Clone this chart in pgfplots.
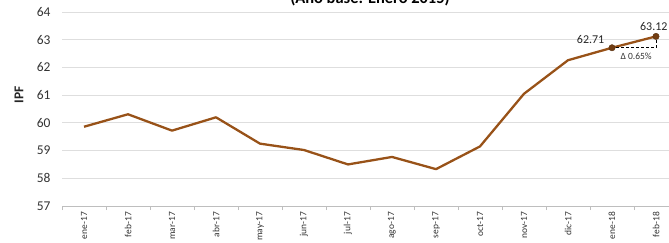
\documentclass[border=0pt]{standalone}
\usepackage{pgfplots}
\pgfplotsset{compat=1.18}
\usepackage{fontspec}
\setmainfont{Carlito}
\definecolor{linebrown}{RGB}{152,82,24}
\definecolor{gridgray}{RGB}{222,222,222}
\definecolor{axisgray}{RGB}{190,190,190}
\begin{document}
\begin{tikzpicture}[x=1bp,y=1bp]
\begin{axis}[
  at={(62bp,37bp)}, anchor=south west,
  scale only axis, width=616bp, height=194bp,
  xmin=-0.5, xmax=13.5, ymin=57, ymax=64,
  axis x line*=bottom, axis y line*=left,
  x axis line style={axisgray,-},
  y axis line style={draw=none},
  xtick={-0.5,0.5,...,13.5},
  x tick label as interval,
  xticklabels={ene-17,feb-17,mar-17,abr-17,may-17,jun-17,jul-17,ago-17,sep-17,oct-17,nov-17,dic-17,ene-18,feb-18},
  xticklabel style={rotate=90, anchor=east, font=\fontsize{9.5}{9.5}\selectfont, text=black!80, inner sep=2pt},
  tick align=outside, major tick length=4bp,
  xtick style={axisgray},
  ytick={57,...,64},
  ymajorgrids, grid style={gridgray, line width=0.8pt},
  ytick style={draw=none},
  yticklabel style={font=\fontsize{13.5}{13.5}\selectfont, text=black!80, xshift=-4bp},
  /pgf/number format/assume math mode=true,
  clip=false,
]
\addplot[linebrown, line width=2.3pt, line join=round] coordinates {
(0,59.86) (1,60.31) (2,59.72) (3,60.20) (4,59.25) (5,59.02) (6,58.50)
(7,58.77) (8,58.33) (9,59.15) (10,61.05) (11,62.26) (12,62.71) (13,63.12)};
\addplot[only marks, mark=*, mark size=3.2pt, mark options={fill=linebrown!75!black, draw=linebrown!55!black}] coordinates {(12,62.71) (13,63.12)};
\draw[densely dashed, black, line width=0.7pt] (axis cs:12.1,62.71) -- (axis cs:13,62.71) -- (axis cs:13,63.02);
\node[anchor=south east, font=\fontsize{12}{12}\selectfont, text=black!85, inner sep=1pt] at (axis cs:11.85,62.80) {62.71};
\node[anchor=south, font=\fontsize{12}{12}\selectfont, text=black!85, inner sep=1pt] at (axis cs:12.95,63.30) {63.12};
\node[anchor=north, font=\fontsize{9.5}{9.5}\selectfont, text=black!80, inner sep=1pt] at (axis cs:12.55,62.55) {Δ 0.65\%};
\end{axis}
\node[rotate=90, font=\bfseries\fontsize{13.5}{13.5}\selectfont, text=black!85] at (19bp,148bp) {IPF};
\node[anchor=base, font=\bfseries\fontsize{16.5}{17}\selectfont] at (370bp,239bp) {(Año base: Enero 2015)};
\pgfresetboundingbox
\useasboundingbox (0,0) rectangle (669bp,243bp);
\end{tikzpicture}
\end{document}
